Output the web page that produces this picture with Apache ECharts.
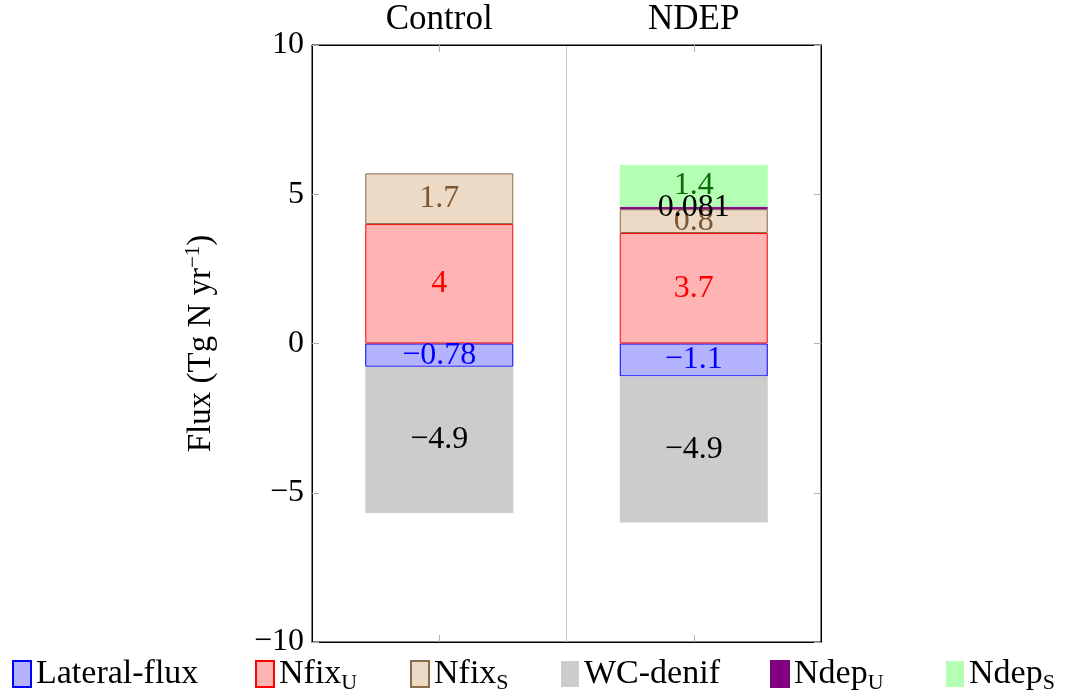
<!DOCTYPE html>
<html><head><meta charset="utf-8">
<script src="https://cdn.jsdelivr.net/npm/echarts@6/dist/echarts.min.js"></script>
<style>html,body{margin:0;padding:0;background:#fff}#c{width:1075px;height:699px}</style>
</head><body><div id="c"></div>
<script>
const categories = ['Control', 'NDEP'];
const lateralFlux = [-0.78, -1.1];
const nfixU = [4, 3.7];
const nfixS = [1.7, 0.8];
const wcDenif = [-4.9, -4.9];
const ndepU = [null, 0.081];
const ndepS = [null, 1.4];
const yTicks = [-10, -5, 0, 5, 10];

const FONT = "'Liberation Serif', 'DejaVu Serif', serif";
const chart = echarts.init(document.getElementById('c'));
function fmt(p){ return String(p.value).replace('-', '\u2212'); }
function mk(name, data, fill, border, labelColor, bw){
  return {
    name, type:'bar', data, stack:'s', xAxisIndex:0, yAxisIndex:0, barWidth:148,
    itemStyle:{color:fill, borderColor:border, borderWidth:bw},
    label:{show:true, position:'inside', color:labelColor, fontFamily:FONT, fontSize:32, formatter:fmt},
    emphasis:{disabled:true}
  };
}
const series = [
  mk('Lateral-flux', lateralFlux, '#b3b3ff', '#0000ff', '#0000ff', 1),
  mk('Nfix_U', nfixU, '#ffb3b3', '#ff0000', '#ff0000', 1),
  mk('Nfix_S', nfixS, '#ecd9c6', '#8c6b4a', '#7d5634', 1),
  mk('WC-denif', wcDenif, '#cccccc', '#cccccc', '#000000', 0),
  mk('Ndep_U', ndepU, '#800080', '#800080', '#000000', 1),
  mk('Ndep_S', ndepS, '#b3ffb3', '#b3ffb3', '#0b6b0b', 0)
];
const legendNames = {
  'Lateral-flux':'{n|Lateral-flux}', 'Nfix_U':'{n|Nfix}{s|U}', 'Nfix_S':'{n|Nfix}{s|S}',
  'WC-denif':'{n|WC-denif}', 'Ndep_U':'{n|Ndep}{s|U}', 'Ndep_S':'{n|Ndep}{s|S}'
};
const legendX = [12, 255, 410, 561, 770, 946];
const legends = series.map((s,i)=>({
  data:[s.name], left:legendX[i], top:657, padding:0, itemWidth:18, itemHeight:26, itemGap:0,
  icon:'rect', selectedMode:false,
  formatter:n=>legendNames[n],
  textStyle:{fontFamily:FONT, color:'#000',
    rich:{n:{fontSize:34, fontFamily:FONT, lineHeight:34, color:'#000'},
          s:{fontSize:22, fontFamily:FONT, lineHeight:34, verticalAlign:'bottom', padding:[0,0,-3,0], color:'#000'}}}
}));
const tickStyle = {show:true, inside:true, length:7, lineStyle:{color:'#b0b0b0', width:1}};
chart.setOption({
  animation:false,
  grid:{left:312, right:254, top:45, bottom:57, show:true, borderColor:'#000', borderWidth:1, backgroundColor:'transparent'},
  legend:legends,
  xAxis:[
    {type:'category', data:categories, position:'top', boundaryGap:true,
     axisLine:{show:true, onZero:false, lineStyle:{color:'#000'}},
     axisTick:Object.assign({alignWithLabel:true}, tickStyle),
     axisLabel:{fontFamily:FONT, fontSize:35, color:'#000', margin:8},
     splitLine:{show:true, lineStyle:{color:'#c8c8c8', width:1}}},
    {type:'category', data:categories, position:'bottom', boundaryGap:true,
     axisLine:{show:true, onZero:false, lineStyle:{color:'#000'}},
     axisTick:Object.assign({alignWithLabel:true}, tickStyle),
     axisLabel:{show:false}, splitLine:{show:false}}
  ],
  yAxis:[
    {type:'value', min:-10, max:10, interval:5, position:'left',
     axisLine:{show:true, onZero:false, lineStyle:{color:'#000'}},
     axisTick:tickStyle,
     axisLabel:{fontFamily:FONT, fontSize:32, color:'#000', margin:8,
       formatter:v=>yTicks.includes(v)?String(v).replace('-', '\u2212'):''},
     splitLine:{show:false},
     name:'{a|Flux (Tg N yr}{b|\u22121}{a|)}', nameLocation:'middle', nameGap:93, nameRotate:90,
     nameTextStyle:{rich:{a:{fontFamily:FONT, fontSize:33, color:'#000', lineHeight:36},
                          b:{fontFamily:FONT, fontSize:21, color:'#000', lineHeight:36, verticalAlign:'top', padding:[0,0,0,0]}}}},
    {type:'value', min:-10, max:10, interval:5, position:'right',
     axisLine:{show:true, onZero:false, lineStyle:{color:'#000'}},
     axisTick:tickStyle, axisLabel:{show:false}, splitLine:{show:false}}
  ],
  series
});
</script></body></html>
